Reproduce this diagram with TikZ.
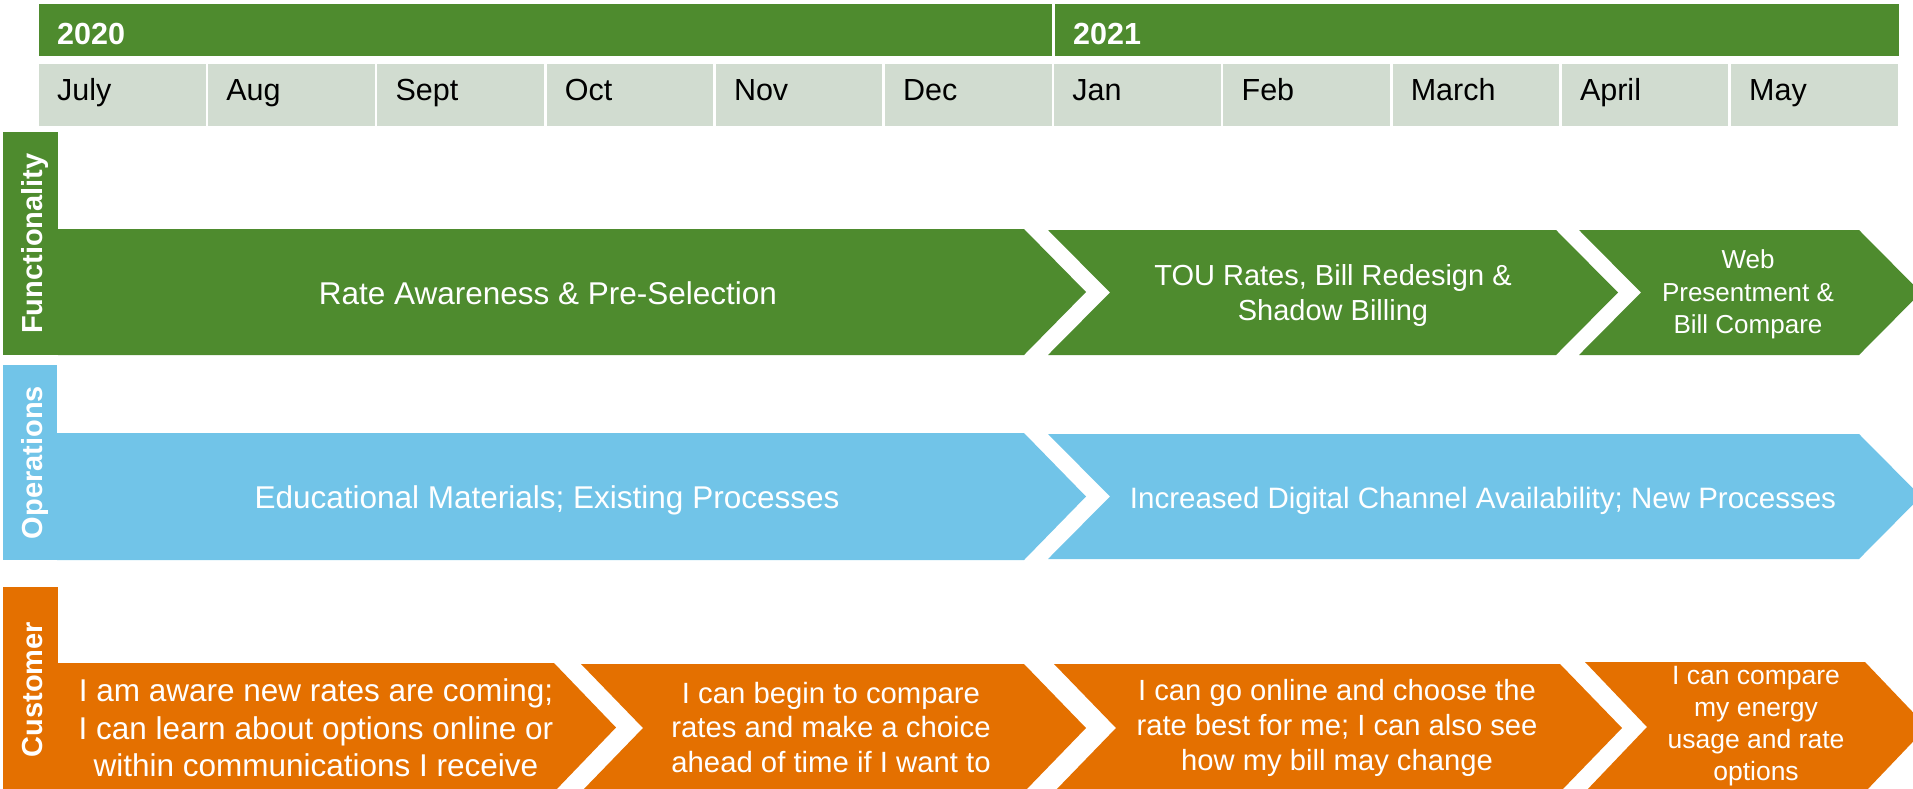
\documentclass[tikz,border=0pt]{standalone}
\usepackage{fontspec}
\setmainfont{Liberation Sans}
\definecolor{leaf}{RGB}{78,139,46}
\definecolor{sage}{RGB}{209,220,208}
\definecolor{sky}{RGB}{113,196,232}
\definecolor{ember}{RGB}{228,112,0}
% chevron: colour, left x, body right x, top y, bottom y, notch depth (0 = flat start)
\newcommand\chevbox[6]{%
  \fill[#1] (#2,#4) -- (#3,#4) -- ({#3+62},{(#4+#5)/2}) -- (#3,#5) -- (#2,#5)
    -- ({#2+#6},{(#4+#5)/2}) -- cycle;}
\begin{document}
\begin{tikzpicture}[x=1pt,y=-1pt,
  yeartxt/.style={anchor=base west,text=white,inner sep=0pt,font=\bfseries\fontsize{30.5pt}{36pt}\selectfont},
  monthtxt/.style={anchor=base west,text=black,inner sep=0pt,font=\fontsize{30.5pt}{36pt}\selectfont},
  lanetxt/.style={anchor=base,rotate=90,text=white,inner sep=0pt,font=\bfseries\fontsize{29pt}{34pt}\selectfont},
  bartxt/.style={text=white,inner sep=0pt,align=center}]
\useasboundingbox (0,0) rectangle (1913,788);
\clip (0,0) rectangle (1913,788);

% year header
\fill[leaf] (39,4) rectangle (1052,56);
\fill[leaf] (1055,4) rectangle (1899,56);
\node[yeartxt] (y2020) at (57,44) {2020};
\node[yeartxt] (y2021) at (1073,44) {2021};

% month cells
\foreach \m [count=\i from 0] in {July,Aug,Sept,Oct,Nov,Dec,Jan,Feb,March,April,May} {
  \pgfmathsetmacro\xl{39+\i*169.2}
  \fill[sage] (\xl,64) rectangle ({\xl+166.6},126);
  \node[monthtxt] (month\i) at ({\xl+18},100) {\m};
}

% lane labels
\fill[leaf]  (3,132) rectangle (58,355);
\fill[sky]   (3,365) rectangle (57,560);
\fill[ember] (3,587) rectangle (58,792);
\node[lanetxt] (laneF) at (42,243.5) {Functionality};
\node[lanetxt] (laneO) at (42,462.5) {Operations};
\node[lanetxt] (laneC) at (42,689.5) {Customer};

% functionality chevrons
\chevbox{leaf}{58}{1024}{229}{355}{0}
\chevbox{leaf}{1048}{1556}{230}{355}{62}
\chevbox{leaf}{1579}{1859}{230}{355}{62}
\node[bartxt,anchor=base,font=\fontsize{31.5pt}{37pt}\selectfont] (f1) at (548,304) {Rate Awareness \& Pre-Selection};
\node[bartxt,font=\fontsize{29pt}{35pt}\selectfont] (f2) at (1333,295.5) {TOU Rates, Bill Redesign \&\\Shadow Billing};
\node[bartxt,font=\fontsize{26pt}{32.5pt}\selectfont] (f3) at (1748,294.5) {Web\\Presentment \&\\Bill Compare};

% operations chevrons
\chevbox{sky}{57}{1024}{433}{560}{0}
\chevbox{sky}{1048}{1859}{434}{559}{62}
\node[bartxt,anchor=base,font=\fontsize{31.5pt}{37pt}\selectfont] (o1) at (547,508) {Educational Materials; Existing Processes};
\node[bartxt,anchor=base,font=\fontsize{29.5pt}{35pt}\selectfont] (o2) at (1483,508) {Increased Digital Channel Availability; New Processes};

% customer chevrons
\chevbox{ember}{58}{554}{663}{792}{0}
\chevbox{ember}{581}{1024}{664}{792}{62}
\chevbox{ember}{1054}{1560}{664}{792}{62}
\chevbox{ember}{1585}{1865}{662}{792}{62}
\node[bartxt,font=\fontsize{31.5pt}{37.5pt}\selectfont] (c1) at (316,728) {I am aware new rates are coming;\\I can learn about options online or\\within communications I receive};
\node[bartxt,font=\fontsize{29.3pt}{34.5pt}\selectfont] (c2) at (831,727.5) {I can begin to compare\\rates and make a choice\\ahead of time if I want to};
\node[bartxt,font=\fontsize{29.2pt}{35pt}\selectfont] (c3) at (1337,728) {I can go online and choose the\\rate best for me; I can also see\\how my bill may change};
\node[bartxt,font=\fontsize{26.5pt}{32pt}\selectfont] (c4) at (1756,726) {I can compare\\my energy\\usage and rate\\options};
\end{tikzpicture}
\end{document}
